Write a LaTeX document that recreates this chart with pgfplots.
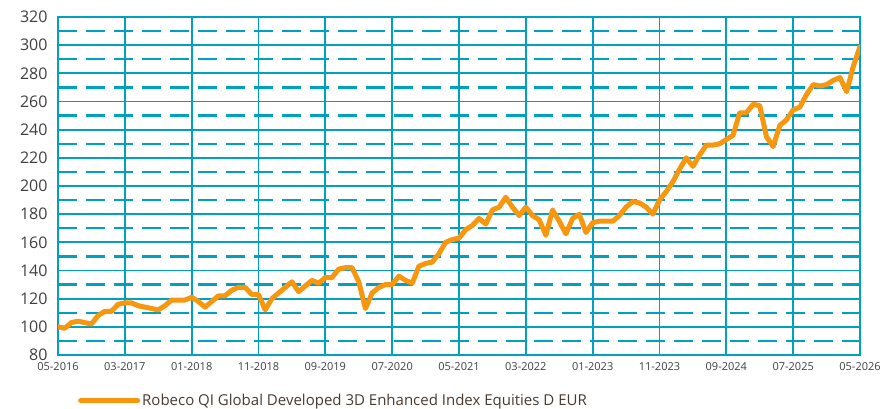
\documentclass[border=0pt]{standalone}
\usepackage{pgfplots}
\pgfplotsset{compat=1.18}
\usepackage{fontspec}
\setmainfont{Open Sans}
\definecolor{teal}{HTML}{00A0BF}
\definecolor{orng}{HTML}{F7960F}
\definecolor{txt}{HTML}{404040}
\definecolor{legtxt}{HTML}{4A3A2E}
\pgfplotstableread{
m v
0 100
1 99
2 103
3 104
4 103
5 102
6 108
7 111
8 111
9 116
10 117
11 117
12 115
13 114
14 113
15 112
16 115
17 119
18 119
19 119
20 121
21 118
22 114
23 118
24 122
25 122
26 126
27 128
28 128
29 123
30 123
31 112
32 120
33 124
34 128
35 132
36 125
37 129
38 133
39 131
40 135
41 135
42 141
43 142
44 142
45 132
46 113
47 124
48 128
49 130
50 130
51 136
52 133
53 131
54 143
55 145
56 146
57 152
58 160
59 162
60 163
61 169
62 172
63 177
64 173
65 183
66 185
67 192
68 185
69 179
70 185
71 179
72 176
73 165
74 183
75 175
76 166
77 177
78 180
79 167
80 174
81 175
82 175
83 175
84 179
85 185
86 189
87 188
88 185
89 180
90 190
91 196
92 203
93 212
94 220
95 214
96 222
97 229
98 229
99 230
100 233
101 236
102 252
103 252
104 258
105 257
106 235
107 228
108 243
109 247
110 254
111 256
112 265
113 272
114 271
115 272
116 275
117 277
118 267
119 285
120 299
}\datatable
\begin{document}
\begin{tikzpicture}[x=1pt,y=1pt]
\useasboundingbox (0,0) rectangle (882,408);
\begin{axis}[
  at={(58pt,53pt)}, anchor=south west,
  scale only axis, width=802pt, height=338pt,
  xmin=0, xmax=120, ymin=80, ymax=320,
  xtick={0,10,...,120},
  xticklabels={05-2016,03-2017,01-2018,11-2018,09-2019,07-2020,05-2021,03-2022,01-2023,11-2023,09-2024,07-2025,05-2026},
  ytick={80,100,...,320},
  minor ytick={90,110,...,310},
  grid=both,
  major grid style={draw=teal, line width=1.8pt},
  minor grid style={draw=teal, line width=2.4pt, dash pattern=on 19pt off 9pt},
  axis line style={draw=teal, line width=1.8pt},
  tick style={draw=none},
  /pgf/number format/assume math mode=true,
  yticklabel style={font=\fontsize{16}{16}\selectfont, text=txt, xshift=-7pt},
  xticklabel style={font=\fontsize{11}{11}\selectfont, text=txt, yshift=-4pt},
  legend style={at={(axis description cs:0.0249,-0.135)}, anchor=west, draw=none, fill=none, inner sep=0pt,
    font=\fontsize{15}{15}\selectfont, text=legtxt},
  legend image code/.code={\draw[#1, line width=5pt] (0pt,0pt) -- (57pt,0pt);},
  legend cell align=left,
]
\addplot[orng, line width=5pt, line join=round, line cap=round] table[x=m,y=v]{\datatable};
\addlegendentry{Robeco QI Global Developed 3D Enhanced Index Equities D EUR}
\end{axis}
\end{tikzpicture}
\end{document}
